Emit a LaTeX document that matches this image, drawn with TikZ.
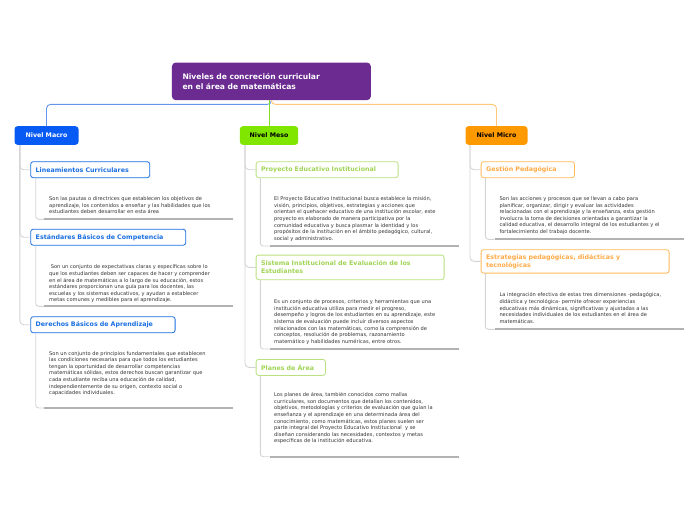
\documentclass[tikz,border=0pt]{standalone}
\usepackage{fontspec}
\setmainfont{DejaVu Sans}
\usetikzlibrary{positioning}

\definecolor{titlepurple}{RGB}{107,43,145}
\definecolor{macroblue}{RGB}{8,90,245}
\definecolor{mesogreen}{RGB}{128,230,0}
\definecolor{microorange}{RGB}{255,153,0}
\definecolor{bluelink}{RGB}{100,150,240}
\definecolor{greenlink}{RGB}{130,220,40}
\definecolor{orangelink}{RGB}{255,200,120}
\definecolor{subblue}{RGB}{25,110,225}
\definecolor{subgreentext}{RGB}{160,212,85}
\definecolor{subgreen}{RGB}{185,225,125}
\definecolor{suborangetext}{RGB}{255,170,70}
\definecolor{suborange}{RGB}{255,185,90}
\definecolor{linegray}{RGB}{212,212,212}
\definecolor{bargray}{RGB}{178,178,178}
\definecolor{desctext}{RGB}{50,50,50}

\tikzset{
  title/.style={fill=titlepurple, text=white, rounded corners=4pt, anchor=north west,
    font=\fontsize{7.6}{10.4}\selectfont\bfseries, align=left, inner xsep=10.6pt,
    minimum height=37.7pt, text width=177.8pt},
  level/.style={rounded corners=3pt, anchor=north west, inner sep=0pt,
    font=\fontsize{6.3}{7.5}\selectfont\bfseries, minimum height=18.6pt},
  sub/.style={draw, fill=white, rounded corners=2.5pt, line width=0.8pt, anchor=north west,
    font=\fontsize{6.3}{8}\selectfont\bfseries, align=left, inner xsep=5pt, minimum height=16pt},
  desc/.style={anchor=north west, inner sep=0pt, align=left, text=desctext,
    font=\fontsize{5.1}{6.6}\selectfont},
  branch/.style={draw=linegray, line width=0.9pt, rounded corners=4pt},
  bar/.style={draw=bargray, line width=2.2pt},
}

\begin{document}
\begin{tikzpicture}[x=1pt, y=-1pt]
  \useasboundingbox (0,0) rectangle (696,520);

  % top
  \node[title] (root) at (171.7,62.3) {Niveles de concreción curricular\\en el área de matemáticas};
  \node[level, fill=macroblue, text=white, minimum width=64pt] (macro) at (14.3,126) {Nivel Macro};
  \node[level, fill=mesogreen, text=black, minimum width=58.3pt] (meso) at (239.7,126) {Nivel Meso};
  \node[level, fill=microorange, text=black, minimum width=62pt] (micro) at (465.3,126) {Nivel Micro};
  \draw[bluelink, line width=0.9pt, rounded corners=4pt] (root.south) -- ++(0,4) -| (macro.north);
  \draw[orangelink, line width=0.9pt, rounded corners=4pt] (root.south) -- ++(0,4) -| (micro.north);
  \draw[greenlink, line width=0.9pt] (root.south -| meso.north) -- (meso.north);

  % macro
  \node[sub, draw=subblue, text=subblue, text width=109pt] (lin) at (30.3,161.3) {Lineamientos Curriculares};
  \node[sub, draw=subblue, text=subblue, text width=145pt] (est) at (30.3,228.8) {Estándares Básicos de Competencia};
  \node[sub, draw=subblue, text=subblue, text width=134.4pt] (der) at (30.3,316.3) {Derechos Básicos de Aprendizaje};
  \draw[branch] ([xshift=5.5pt]macro.south west) |- (lin.west);
  \draw[branch] ([xshift=5.5pt]macro.south west) |- (est.west);
  \draw[branch] ([xshift=5.5pt]macro.south west) |- (der.west);

  \node[desc] (linD) at (49,196.4) {Son las pautas o directrices que establecen los objetivos de\\aprendizaje, los contenidos a enseñar y las habilidades que los\\estudiantes deben desarrollar en esta área};
  \node[desc] (estD) at (49,264.7) {\hspace*{1.6pt}Son un conjunto de expectativas claras y específicas sobre lo\\que los estudiantes deben ser capaces de hacer y comprender\\en el área de matemáticas a lo largo de su educación, estos\\estándares proporcionan una guía para los docentes, las\\escuelas y los sistemas educativos, y ayudan a establecer\\metas comunes y medibles para el aprendizaje.};
  \node[desc] (derD) at (49,351.1) {Son un conjunto de principios fundamentales que establecen\\las condiciones necesarias para que todos los estudiantes\\tengan la oportunidad de desarrollar competencias\\matemáticas sólidas, estos derechos buscan garantizar que\\cada estudiante reciba una educación de calidad,\\independientemente de su origen, contexto social o\\capacidades individuales.};
  \coordinate (linB) at (44,219.3);
  \coordinate (estB) at (44,306.3);
  \coordinate (derB) at (44,408);
  \draw[branch, rounded corners=3pt] ([xshift=5.4pt]lin.south west) |- (linB);
  \draw[branch, rounded corners=3pt] ([xshift=5.4pt]est.south west) |- (estB);
  \draw[branch, rounded corners=3pt] ([xshift=5.4pt]der.south west) |- (derB);
  \draw[bar] (linB) -- ++(189,0);
  \draw[bar] (estB) -- ++(189,0);
  \draw[bar] (derB) -- ++(189,0);

  % meso
  \node[sub, draw=subgreen, text=subgreentext, text width=132pt] (pei) at (255.7,161.3) {Proyecto Educativo Institucional};
  \node[sub, draw=subgreen, text=subgreentext, text width=178pt, minimum height=24.6pt] (siee) at (255.7,254.7) {Sistema Institucional de Evaluación de los\\Estudiantes};
  \node[sub, draw=subgreen, text=subgreentext, text width=59.3pt] (plan) at (255.7,359) {Planes de Área};
  \draw[branch] ([xshift=5.3pt]meso.south west) |- (pei.west);
  \draw[branch] ([xshift=5.3pt]meso.south west) |- (siee.west);
  \draw[branch] ([xshift=5.3pt]meso.south west) |- (plan.west);

  \node[desc] (peiD) at (274,196.4) {El Proyecto Educativo Institucional busca establece la misión,\\visión, principios, objetivos, estrategias y acciones que\\orientan el quehacer educativo de una institución escolar, este\\proyecto es elaborado de manera participativa por la\\comunidad educativa y busca plasmar la identidad y los\\propósitos de la institución en el ámbito pedagógico, cultural,\\social y administrativo.};
  \node[desc] (sieeD) at (274,299.7) {Es un conjunto de procesos, criterios y herramientas que una\\institución educativa utiliza para medir el progreso,\\desempeño y logros de los estudiantes en su aprendizaje, este\\sistema de evaluación puede incluir diversos aspectos\\relacionados con las matemáticas, como la comprensión de\\conceptos, resolución de problemas, razonamiento\\matemático y habilidades numéricas, entre otros.};
  \node[desc] (planD) at (274,392.4) {Los planes de área, también conocidos como mallas\\curriculares, son documentos que detallan los contenidos,\\objetivos, metodologías y criterios de evaluación que guían la\\enseñanza y el aprendizaje en una determinada área del\\conocimiento, como matemáticas, estos planes suelen ser\\parte integral del Proyecto Educativo Institucional \ y se\\diseñan considerando las necesidades, contextos y metas\\específicas de la institución educativa.};
  \coordinate (peiB) at (269.7,246);
  \coordinate (sieeB) at (269.7,349);
  \coordinate (planB) at (269.7,456.7);
  \draw[branch, rounded corners=3pt] ([xshift=4.6pt]pei.south west) |- (peiB);
  \draw[branch, rounded corners=3pt] ([xshift=4.6pt]siee.south west) |- (sieeB);
  \draw[branch, rounded corners=3pt] ([xshift=4.6pt]plan.south west) |- (planB);
  \draw[bar] (peiB) -- ++(189,0);
  \draw[bar] (sieeB) -- ++(189,0);
  \draw[bar] (planB) -- ++(189,0);

  % micro
  \node[sub, draw=suborange, text=suborangetext, text width=83.3pt] (gest) at (480.7,161.3) {Gestión Pedagógica};
  \node[sub, draw=suborange, text=suborangetext, text width=178pt, minimum height=23.4pt] (estr) at (480.7,249.3) {Estrategias pedagógicas, didácticas y\\tecnológicas};
  \draw[branch] ([xshift=4.7pt]micro.south west) |- (gest.west);
  \draw[branch] ([xshift=4.7pt]micro.south west) |- (estr.west);

  \node[desc] (gestD) at (499.3,196.4) {Son las acciones y procesos que se llevan a cabo para\\planificar, organizar, dirigir y evaluar las actividades\\relacionadas con el aprendizaje y la enseñanza, esta gestión\\involucra la toma de decisiones orientadas a garantizar la\\calidad educativa, el desarrollo integral de los estudiantes y el\\fortalecimiento del trabajo docente.};
  \node[desc] (estrD) at (499.3,292.7) {La integración efectiva de estas tres dimensiones -pedagógica,\\didáctica y tecnológica- permite ofrecer experiencias\\educativas más dinámicas, significativas y ajustadas a las\\necesidades individuales de los estudiantes en el área de\\matemáticas.};
  \coordinate (gestB) at (494.7,239.3);
  \coordinate (estrB) at (494.7,329.3);
  \draw[branch, rounded corners=3pt] ([xshift=4.6pt]gest.south west) |- (gestB);
  \draw[branch, rounded corners=3pt] ([xshift=4.6pt]estr.south west) |- (estrB);
  \draw[bar] (gestB) -- ++(189,0);
  \draw[bar] (estrB) -- ++(189,0);
\end{tikzpicture}
\end{document}
